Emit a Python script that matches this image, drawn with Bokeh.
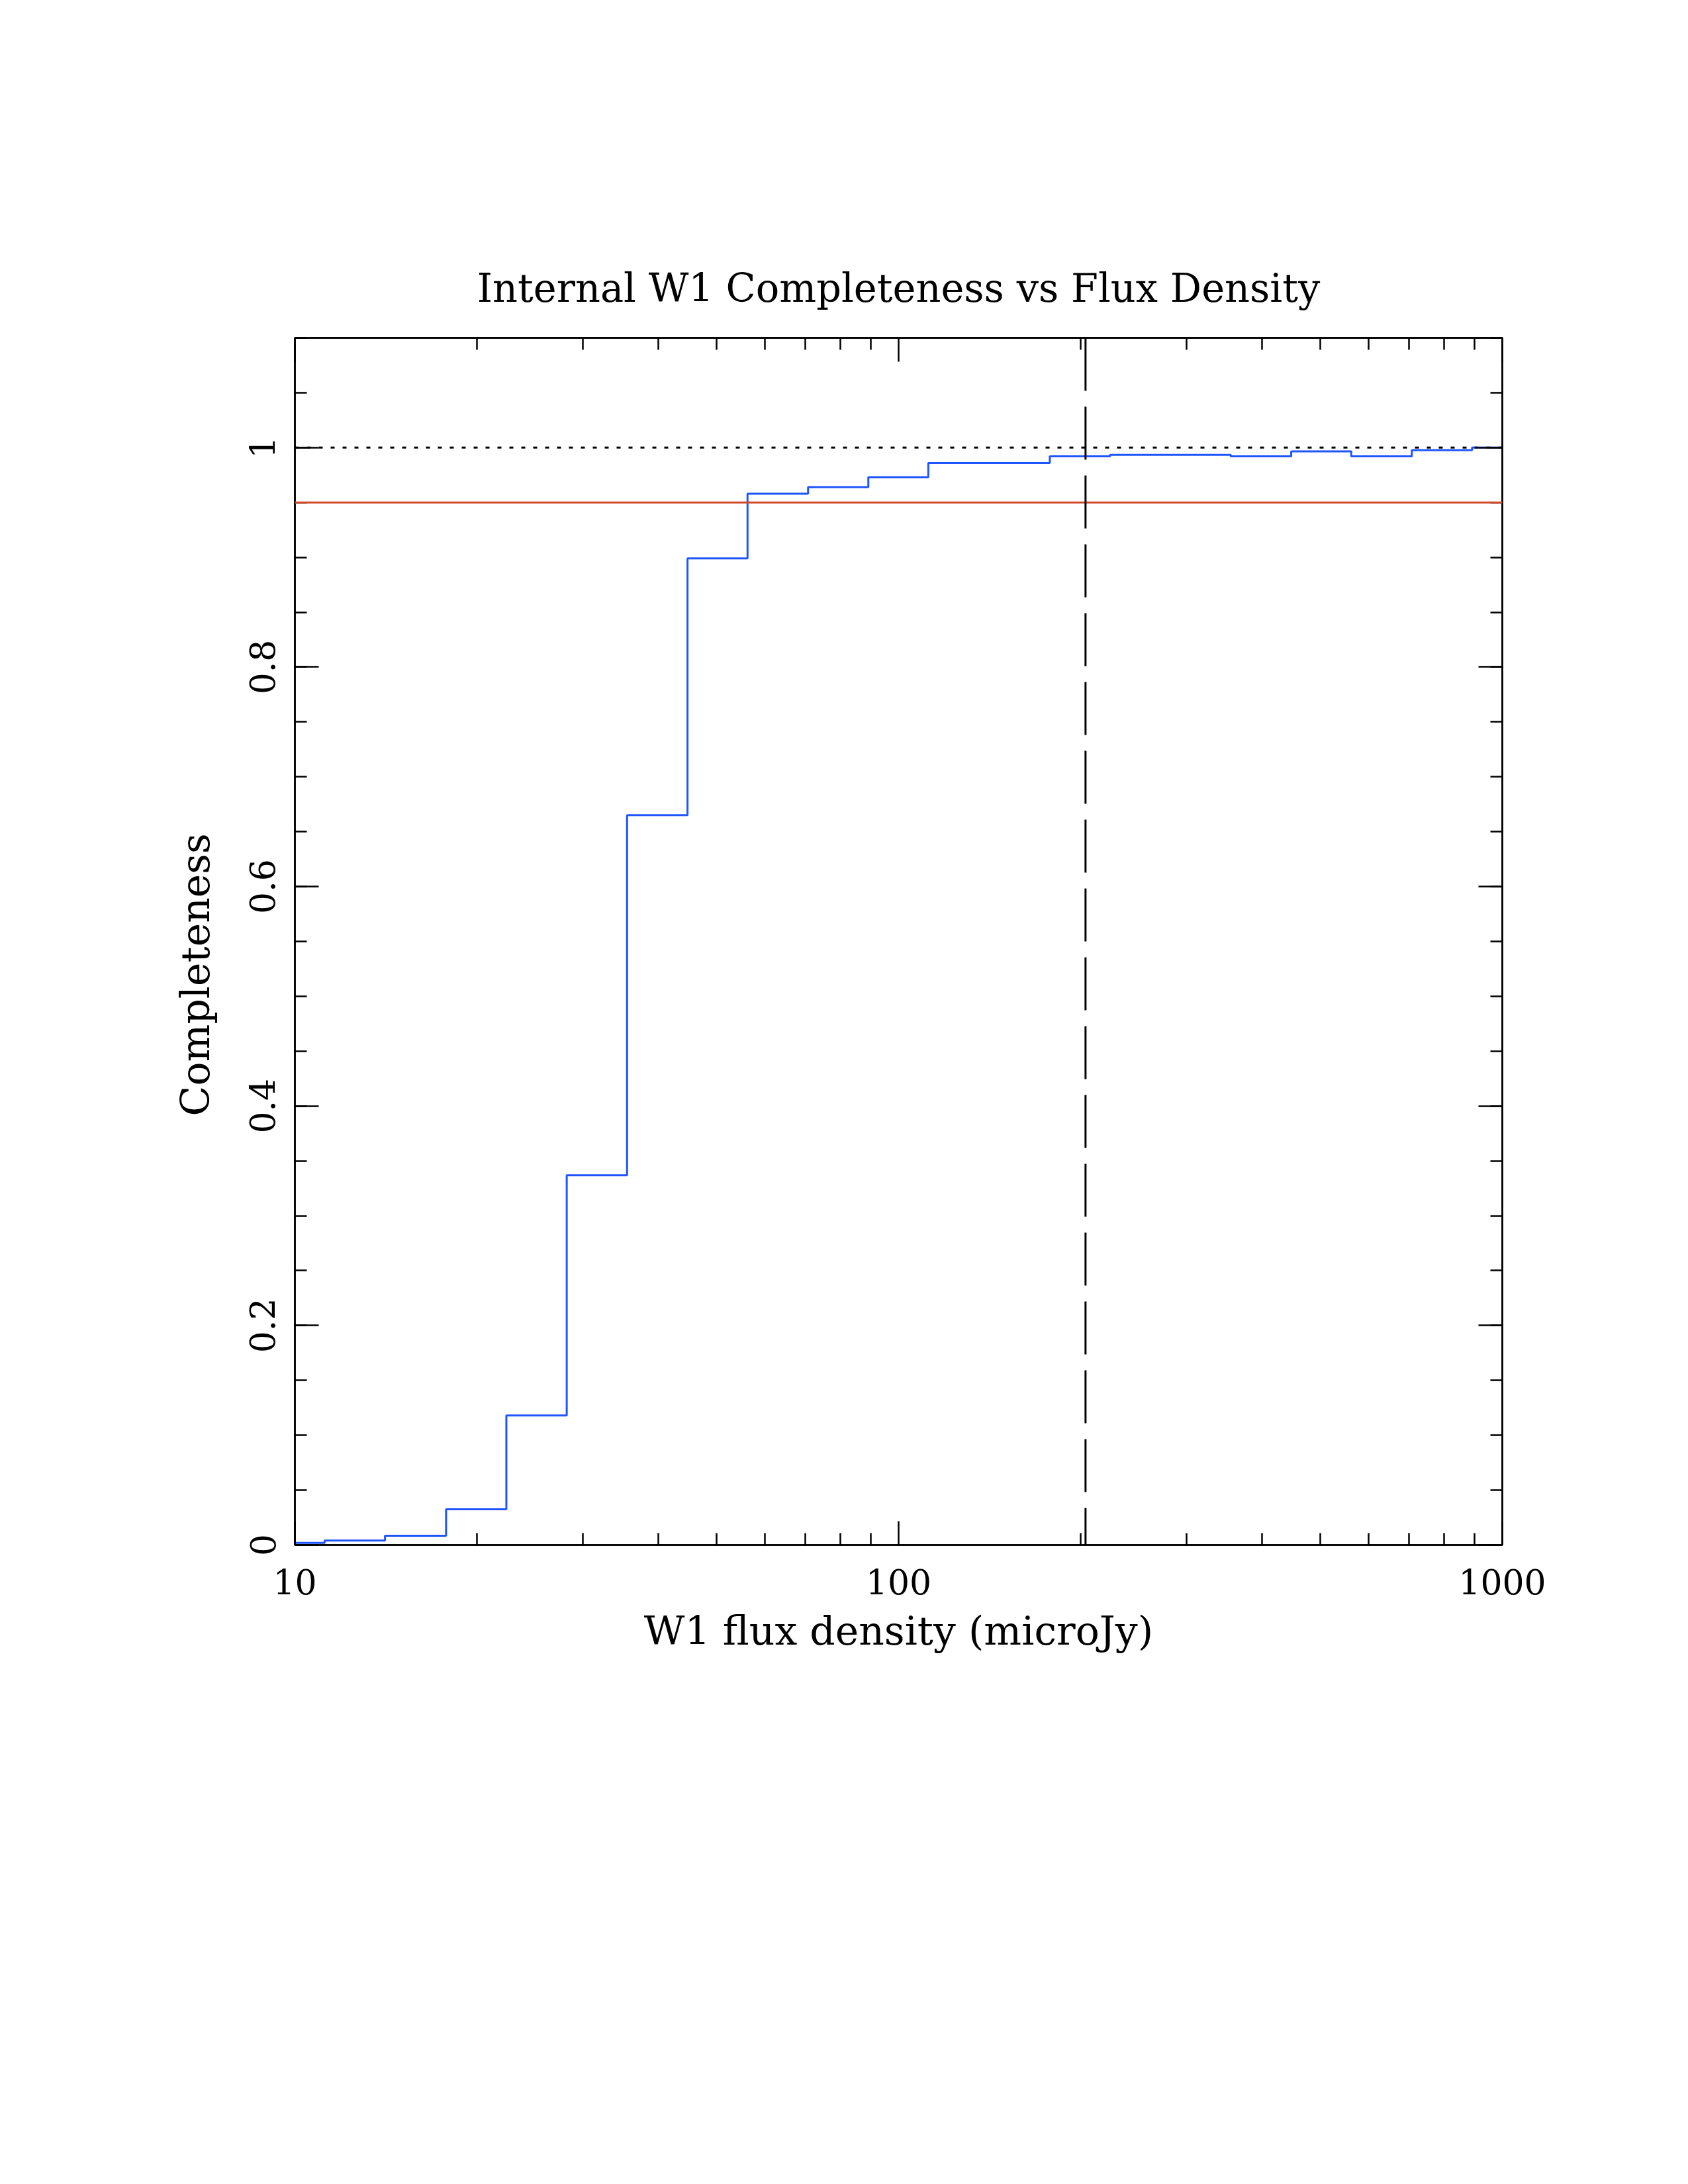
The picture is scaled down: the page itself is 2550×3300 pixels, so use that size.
from bokeh.plotting import figure
from bokeh.models import (Range1d, LogAxis, LinearAxis, FixedTicker, CustomJSTickFormatter,
                          Span, Title)
from bokeh.embed import file_html
from bokeh.resources import INLINE

# ---- data ----
bin_edges = [10, 11.2, 14.1, 17.8, 22.4, 28.2, 35.5, 44.7, 56.2, 70.8, 89.1,
             112, 141, 178, 224, 282, 355, 447, 562, 708, 891, 1000]
completeness = [0.002, 0.004, 0.0085, 0.0326, 0.118, 0.337, 0.665, 0.899, 0.958,
                0.964, 0.973, 0.986, 0.986, 0.992, 0.9934, 0.9934, 0.992, 0.9966,
                0.992, 0.9976, 1.0]
flux_limit = 204.0
level_95 = 0.95
level_100 = 1.0
x_major = [10, 100, 1000]
x_minor = [20, 30, 40, 50, 60, 70, 80, 90, 200, 300, 400, 500, 600, 700, 800, 900]
y_major = [0, 0.2, 0.4, 0.6, 0.8, 1.0]
y_minor = [round(0.05 * i, 2) for i in range(23)]

FONT = "DejaVu Serif"
TICK_FS = "52px"
LAB_FS = "60px"

p = figure(width=2534, height=3284, x_axis_type="log",
           x_range=Range1d(10, 1000), y_range=Range1d(0, 1.1),
           output_backend="svg", toolbar_location=None,
           min_border_left=445, min_border_right=265,
           min_border_top=510, min_border_bottom=950,
           title="Internal W1 Completeness vs Flux Density")
p.background_fill_color = "white"
p.border_fill_color = "white"
p.outline_line_color = "black"
p.outline_line_width = 2.5
p.grid.visible = False

p.title.align = "center"
p.title.text_font = FONT
p.title.text_font_size = "59px"
p.title.text_font_style = "normal"
p.title.text_color = "black"
p.title.standoff = 82

xt = FixedTicker(ticks=x_major, minor_ticks=x_minor)
yt = FixedTicker(ticks=y_major, minor_ticks=y_minor)
fmt = CustomJSTickFormatter(code="return String(Math.round(tick*100)/100);")

def style_axis(ax, labels=True):
    ax.axis_line_width = 2.5
    ax.axis_line_color = "black"
    ax.major_tick_line_width = 2.5
    ax.minor_tick_line_width = 2.5
    ax.major_tick_in = 36
    ax.major_tick_out = 0
    ax.minor_tick_in = 18
    ax.minor_tick_out = 0
    if labels:
        ax.major_label_text_font = FONT
        ax.major_label_text_font_size = TICK_FS
        ax.major_label_text_color = "black"
        ax.axis_label_text_font = FONT
        ax.axis_label_text_font_size = LAB_FS
        ax.axis_label_text_font_style = "normal"
        ax.axis_label_text_color = "black"
    else:
        ax.major_label_text_font_size = "0px"
        ax.major_label_text_color = None

xa = p.xaxis[0]
xa.ticker = xt
xa.formatter = fmt
xa.axis_label = "W1 flux density (microJy)"
style_axis(xa)
xa.major_label_standoff = 36
xa.axis_label_standoff = 17

ya = p.yaxis[0]
ya.ticker = yt
ya.formatter = fmt
style_axis(ya)
ya.major_label_orientation = "parallel"
ya.major_label_standoff = 30

# y-axis title (sits a little below the frame centre, as in the reference)
ytitle = Title(text="Completeness", align="left", offset=648, standoff=90,
               text_font=FONT, text_font_size=LAB_FS, text_font_style="normal",
               text_color="black")
p.add_layout(ytitle, "left")

top = LogAxis(ticker=FixedTicker(ticks=x_major, minor_ticks=x_minor))
style_axis(top, labels=False)
p.add_layout(top, "above")
right = LinearAxis(ticker=FixedTicker(ticks=y_major, minor_ticks=y_minor))
style_axis(right, labels=False)
p.add_layout(right, "right")

# reference lines
p.add_layout(Span(location=level_100, dimension="width", line_color="black",
                  line_width=3, line_dash="6 12"))
p.add_layout(Span(location=level_95, dimension="width", line_color="#d04a2a",
                  line_width=3))
p.add_layout(Span(location=flux_limit, dimension="height", line_color="black",
                  line_width=3, line_dash="80 24"))

# histogram steps
xs = bin_edges
ys = completeness + [completeness[-1]]
p.step(x=xs, y=ys, mode="after", line_color="#1f55ff", line_width=3)

open("out.html", "w").write(file_html(p, INLINE))
